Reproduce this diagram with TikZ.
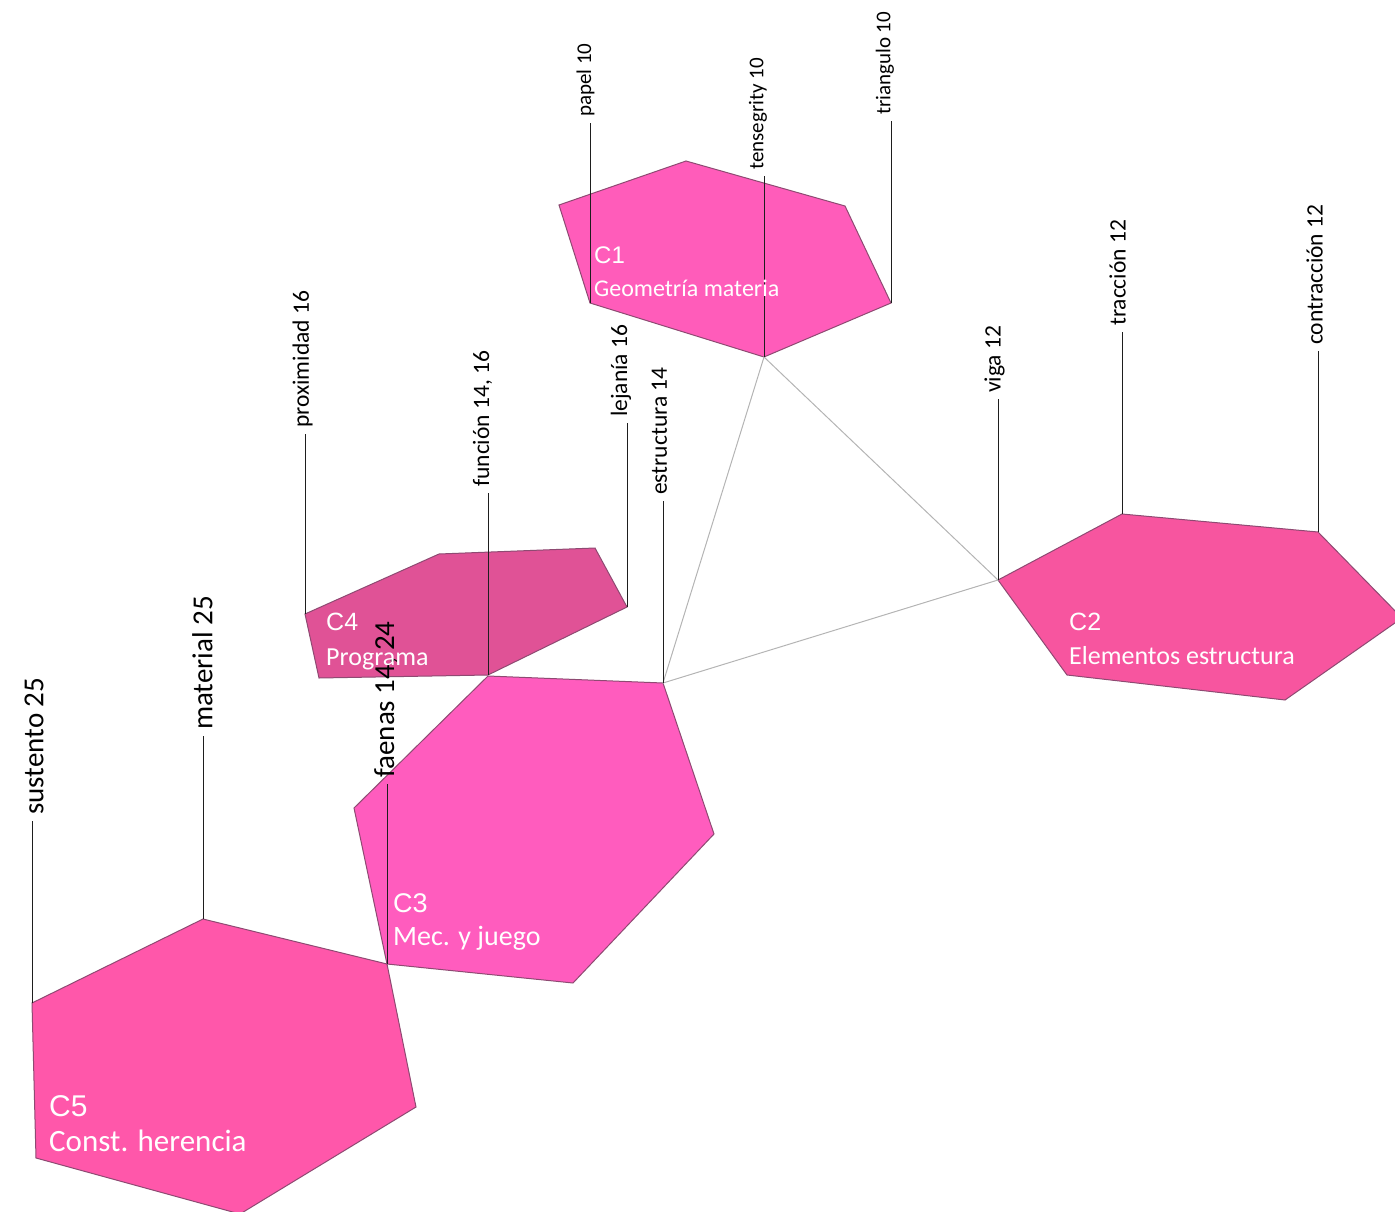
\documentclass[tikz,border=0pt]{standalone}
\usepackage{fontspec}
\setmainfont{Carlito}
\newfontfamily\arialf{Liberation Sans}
\definecolor{edgec}{HTML}{8E4A72}
\definecolor{trigrey}{HTML}{B4B4B4}
\definecolor{leadc}{HTML}{1E1E1E}
\definecolor{cOne}{HTML}{FF5CBA}
\definecolor{cTwo}{HTML}{F7559F}
\definecolor{cThree}{HTML}{FF5CBE}
\definecolor{cFour}{HTML}{E05296}
\definecolor{cFive}{HTML}{FF57AA}
\begin{document}
\begin{tikzpicture}[x=1pt,y=-1pt,
  cluster/.style={draw=edgec, line width=1pt, line join=miter},
  leader/.style={draw=leadc, line width=0.85pt},
  tri/.style={draw=trigrey, line width=1pt},
  lab/.style={rotate=90, anchor=west, inner xsep=6pt, inner ysep=0pt, text=black},
  labS/.style={lab, font=\fontsize{21}{24}\selectfont},
  labM/.style={lab, font=\fontsize{23.5}{27}\selectfont},
  labL/.style={lab, font=\fontsize{29}{33}\selectfont},
  ctitle/.style={anchor=base west, inner sep=0pt, text=white},
]
\useasboundingbox (0,0) rectangle (1395,1212);
\begin{scope}
\clip (0,0) rectangle (1395,1212);
% ---- C1 ----
\coordinate (c1a) at (559,205);
\coordinate (c1b) at (686,161);
\coordinate (c1c) at (845,206);
\coordinate (c1d) at (891,303);
\coordinate (c1e) at (764,357);
\coordinate (c1f) at (590,303);
\filldraw[cluster, fill=cOne] (c1a) -- (c1b) -- (c1c) -- (c1d) -- (c1e) -- (c1f) -- cycle;
% ---- C2 ----
\coordinate (c2a) at (998,580);
\coordinate (c2b) at (1122,514);
\coordinate (c2c) at (1318,532);
\coordinate (c2d) at (1402,618);
\coordinate (c2e) at (1285,700);
\coordinate (c2f) at (1067,675);
\filldraw[cluster, fill=cTwo] (c2a) -- (c2b) -- (c2c) -- (c2d) -- (c2e) -- (c2f) -- cycle;
% ---- C4 ----
\coordinate (c4a) at (305,614);
\coordinate (c4b) at (439,554);
\coordinate (c4c) at (595,548);
\coordinate (c4d) at (627,607);
\coordinate (c4e) at (488,675);
\coordinate (c4f) at (319,678);
\filldraw[cluster, fill=cFour] (c4a) -- (c4b) -- (c4c) -- (c4d) -- (c4e) -- (c4f) -- cycle;
% ---- C3 ----
\coordinate (c3a) at (488,676);
\coordinate (c3b) at (663,683);
\coordinate (c3c) at (714,834);
\coordinate (c3d) at (573,983);
\coordinate (c3e) at (387,964);
\coordinate (c3f) at (354,808);
\filldraw[cluster, fill=cThree] (c3a) -- (c3b) -- (c3c) -- (c3d) -- (c3e) -- (c3f) -- cycle;
% ---- C5 ----
\coordinate (c5a) at (32,1003);
\coordinate (c5b) at (203,919);
\coordinate (c5c) at (387,964);
\coordinate (c5d) at (416,1107);
\coordinate (c5e) at (240,1214);
\coordinate (c5f) at (36,1158);
\filldraw[cluster, fill=cFive] (c5a) -- (c5b) -- (c5c) -- (c5d) -- (c5e) -- (c5f) -- cycle;
\end{scope}
% ---- triangle between clusters ----
\draw[tri] (c1e) -- (c2a) -- (c3b) -- cycle;
% ---- labels ----
\node[labS] (papel) at (585.5,123) {papel 10};
\node[labS] (tens) at (758,176) {tensegrity 10};
\node[labS] (trian) at (885,121) {triangulo 10};
\node[labM] (prox) at (302.5,434) {proximidad 16};
\node[labM] (func) at (482.5,493) {función 14, 16};
\node[labM] (lejan) at (621,423) {lejanía 16};
\node[labM] (estr) at (659.5,501) {estructura 14};
\node[labM] (viga) at (994.5,399) {viga 12};
\node[labM] (tracc) at (1117.5,332) {tracción 12};
\node[labM] (contr) at (1314.5,351) {contracción 12};
\node[labL] (faenas) at (386,784) {faenas 14, 24};
\node[labL] (mater) at (202.5,736) {material 25};
\node[labL] (suste) at (34,821) {sustento 25};
% ---- leader lines ----
\draw[leader] (c1f) -- (c1f |- papel.west);
\draw[leader] (c1e) -- (c1e |- tens.west);
\draw[leader] (c1d) -- (c1d |- trian.west);
\draw[leader] (c4a) -- (c4a |- prox.west);
\draw[leader] (c4e) -- (c4e |- func.west);
\draw[leader] (c4d) -- (c4d |- lejan.west);
\draw[leader] (c3b) -- (c3b |- estr.west);
\draw[leader] (c3e) -- (c3e |- faenas.west);
\draw[leader] (c2a) -- (c2a |- viga.west);
\draw[leader] (c2b) -- (c2b |- tracc.west);
\draw[leader] (c2c) -- (c2c |- contr.west);
\draw[leader] (c5b) -- (c5b |- mater.west);
\draw[leader] (c5a) -- (c5a |- suste.west);
% ---- cluster titles ----
\node[ctitle, font=\arialf\fontsize{24}{28}\selectfont] (t1) at (594,263) {C1};
\node[ctitle, font=\fontsize{24}{28}\selectfont] (s1) at (594,296) {Geometría materia};
\node[ctitle, font=\arialf\fontsize{25}{28}\selectfont] (t2) at (1069,630) {C2};
\node[ctitle, font=\fontsize{26}{28}\selectfont] (s2) at (1069,664) {Elementos estructura};
\node[ctitle, font=\arialf\fontsize{27}{28}\selectfont] (t3) at (393,912) {C3};
\node[ctitle, font=\fontsize{28}{28}\selectfont] (s3) at (393,945) {Mec. y juego};
\node[ctitle, font=\arialf\fontsize{25}{28}\selectfont] (t4) at (326,630) {C4};
\node[ctitle, font=\fontsize{26}{28}\selectfont] (s4) at (326,665) {Programa};
\node[ctitle, font=\arialf\fontsize{30}{32}\selectfont] (t5) at (49,1116) {C5};
\node[ctitle, font=\fontsize{31}{32}\selectfont] (s5) at (49,1151) {Const. herencia};
\end{tikzpicture}
\end{document}
